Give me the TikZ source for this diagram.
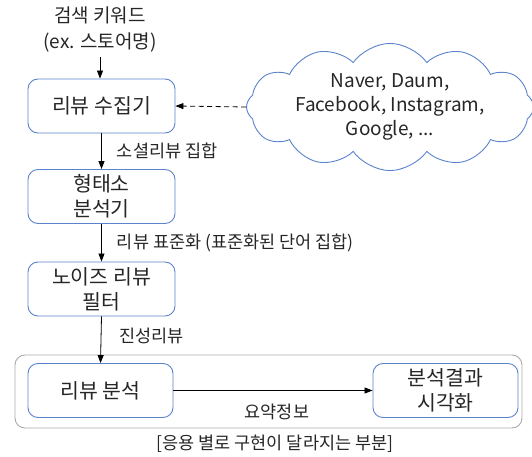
\documentclass[tikz,border=0pt]{standalone}
\usepackage{fontspec}
\setmainfont{Noto Sans CJK KR}
\usetikzlibrary{shapes.symbols,arrows.meta}
\definecolor{boxblue}{RGB}{91,130,205}
\definecolor{txt}{RGB}{38,38,38}
\definecolor{outergray}{RGB}{170,170,170}
\tikzset{
  stagebox/.style={draw=boxblue, line width=0.9pt, rounded corners=10pt, minimum width=147pt, minimum height=54pt, align=center, text=txt, font=\fontsize{20.5}{25}\selectfont, inner sep=0pt},
  regionbox/.style={draw=outergray, line width=0.9pt, rounded corners=10pt, minimum width=507pt, minimum height=73pt, inner sep=0pt},
  flow/.style={-{Triangle[length=8pt,width=6pt]}, line width=0.8pt, black},
  dashflow/.style={flow, dash pattern=on 5pt off 3.5pt},
  lbl/.style={text=txt, font=\fontsize{17.5}{20}\selectfont, inner sep=0pt},
}
\begin{document}
\begin{tikzpicture}[x=1pt,y=-1pt]
\useasboundingbox (0,0) rectangle (532,457);
\node[text=txt, align=center, font=\fontsize{19}{26}\selectfont, inner sep=0pt] (kw) at (100,30) {검색 키워드\\(ex. 스토어명)};
\node[stagebox] (collect) at (101.5,106) {리뷰 수집기};
\node[stagebox] (morph) at (101.5,196.5) {형태소\\분석기};
\node[stagebox] (noise) at (101.5,289) {노이즈 리뷰\\필터};
\node[regionbox] (region) at (268.5,391.5) {};
\node[stagebox, minimum width=145pt] (analyze) at (100.5,390.5) {리뷰 분석};
\node[stagebox, minimum width=145pt] (visual) at (445.5,390.5) {분석결과\\시각화};
\node[cloud, cloud ignores aspect, draw=boxblue, line width=0.9pt, cloud puffs=12, cloud puff arc=110, minimum width=287pt, minimum height=102pt, align=center, text=txt, font=\fontsize{19}{24}\selectfont, inner sep=0pt] (src) at (390,107) {Naver, Daum,\\Facebook, Instagram,\\Google, ...};
\node[lbl] (cap) at (275,444) {[응용 별로 구현이 달라지는 부분]};
\coordinate (kwend) at (100,57);
\draw[flow] (kwend) -- (collect.north -| kwend);
\draw[dashflow] (src.west) -- (collect.east);
\draw[flow] (collect) -- node[lbl, right=15pt, pos=0.5] {소셜리뷰 집합} (morph);
\draw[flow] (morph) -- node[lbl, right=15pt, pos=0.5] {리뷰 표준화 (표준화된 단어 집합)} (noise);
\draw[flow] (noise.south) -- node[lbl, right=18pt, pos=0.42] {진성리뷰} (analyze.north);
\draw[flow] (analyze) -- node[lbl, below=13pt, pos=0.52] {요약정보} (visual);
\end{tikzpicture}
\end{document}
